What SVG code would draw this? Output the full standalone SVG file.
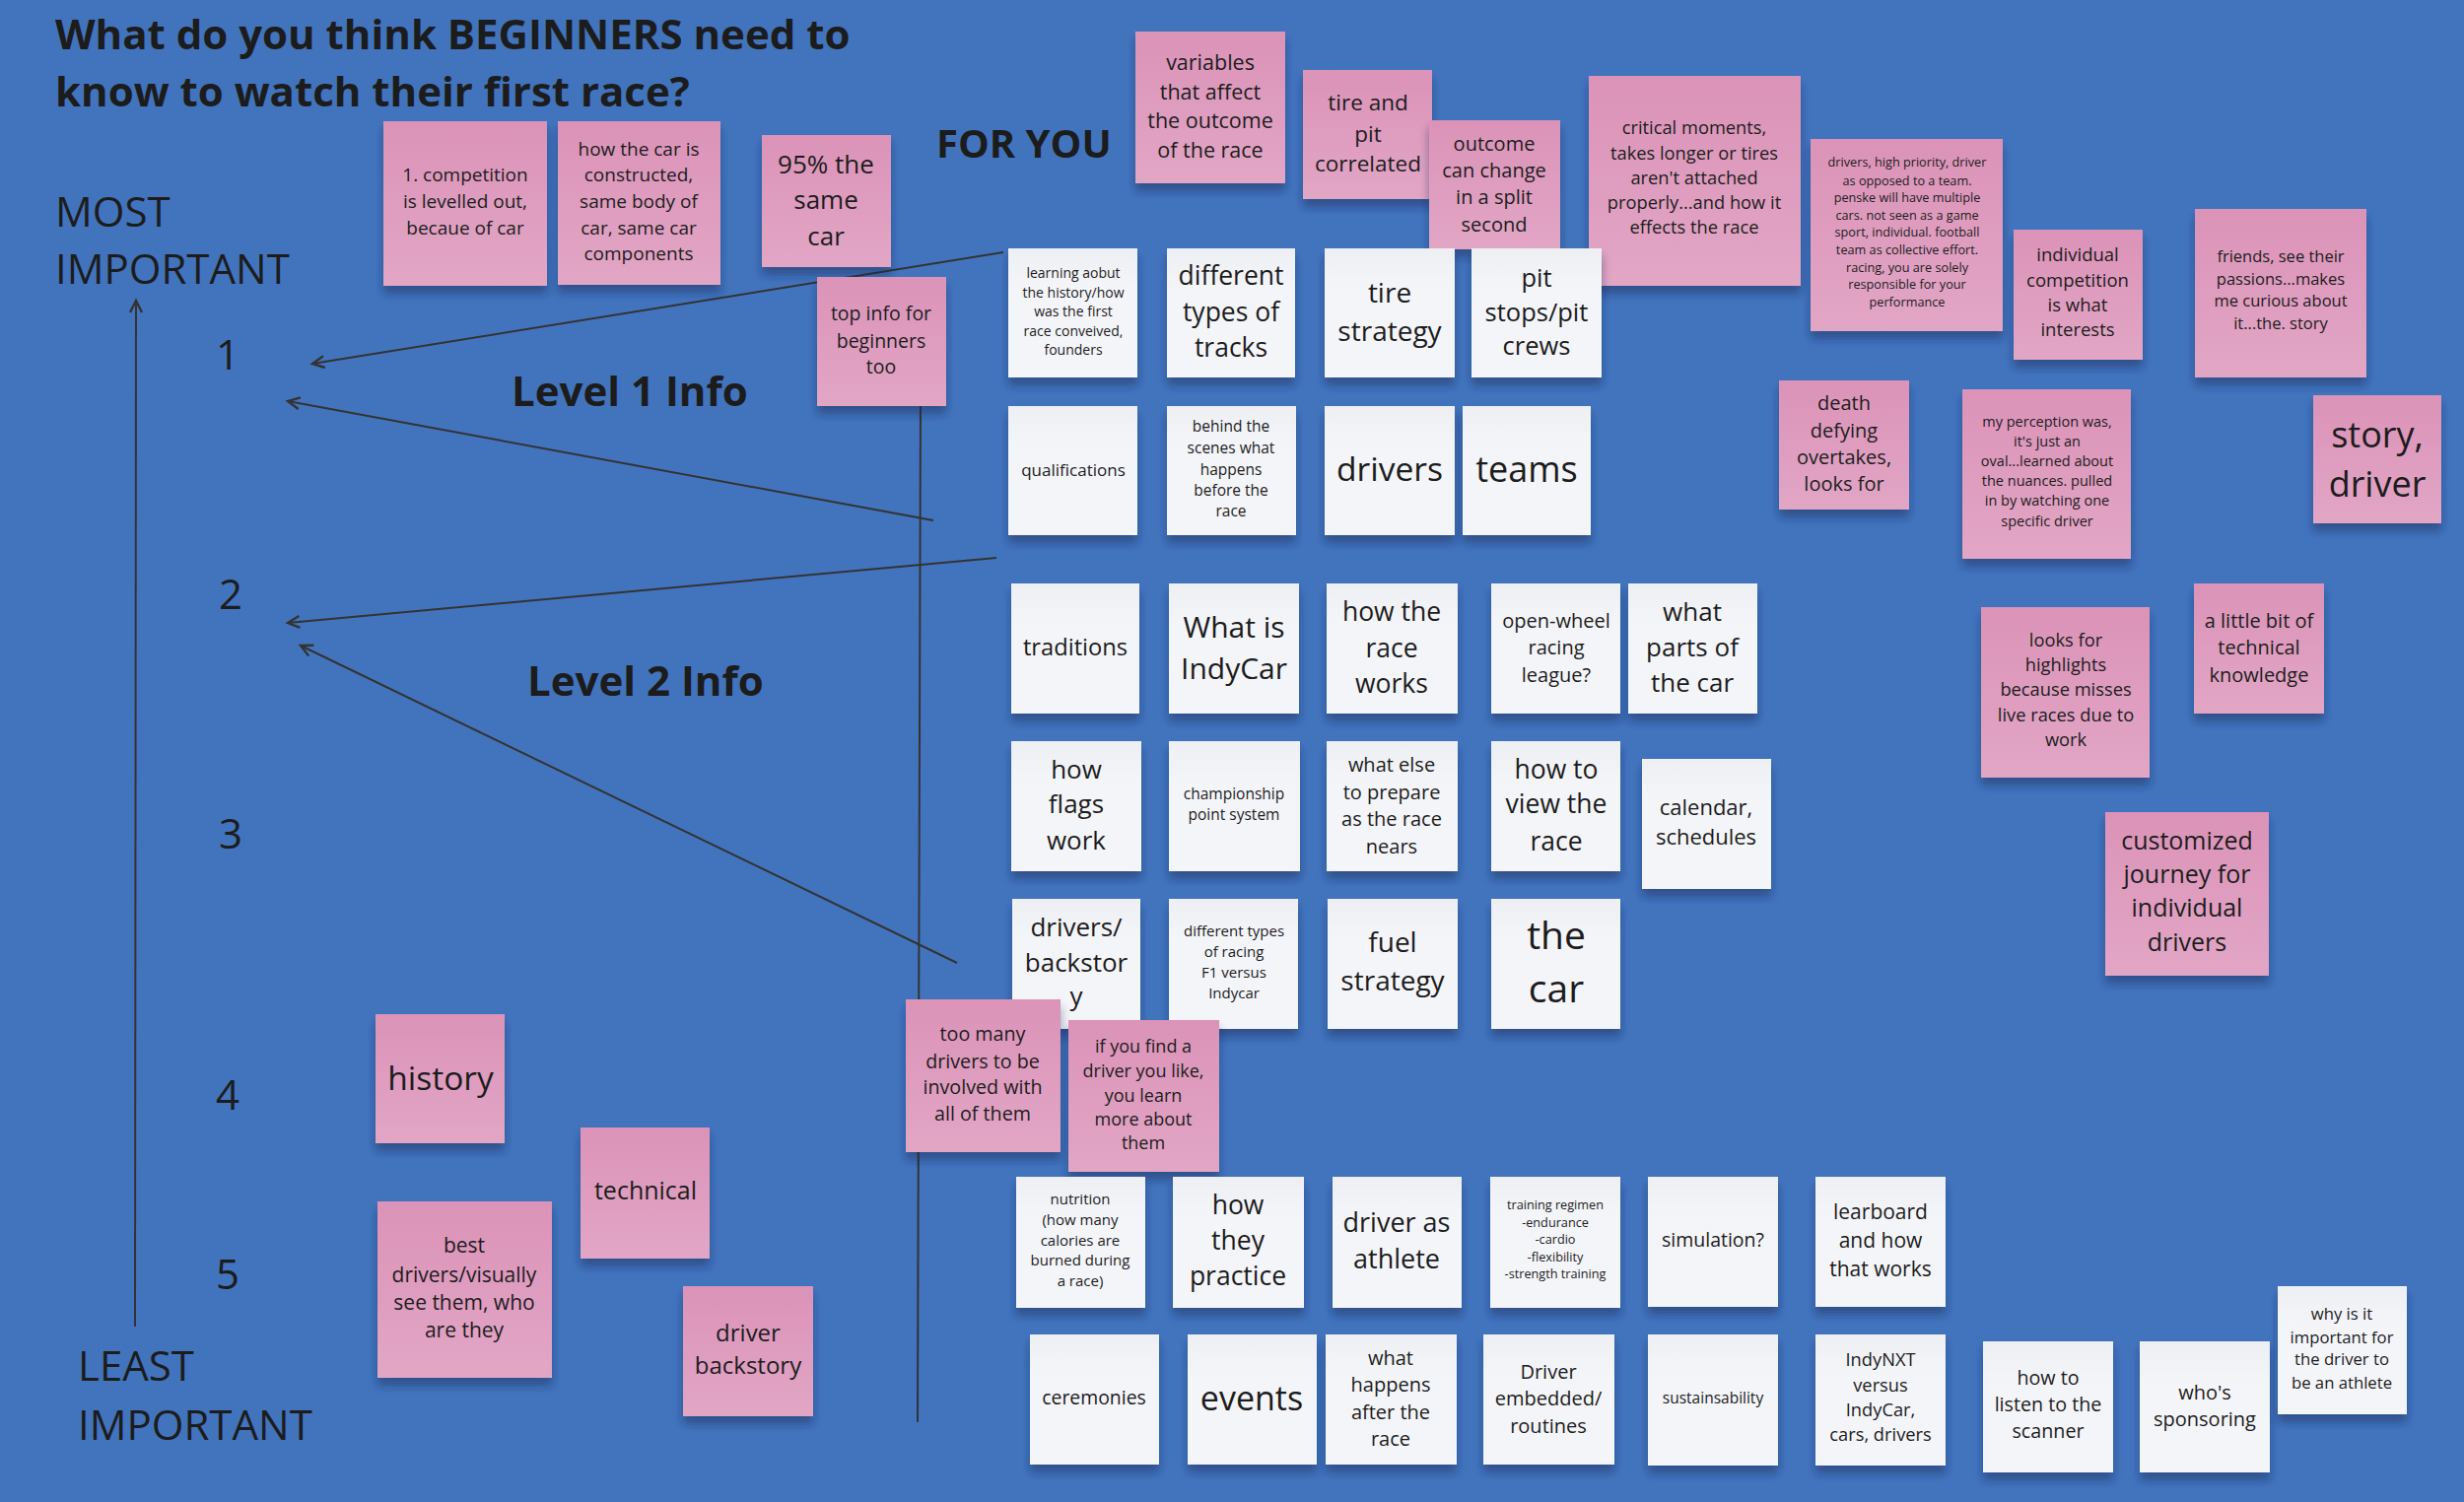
<svg xmlns="http://www.w3.org/2000/svg" width="2500" height="1524" viewBox="0 0 2500 1524">
<defs>
<linearGradient id="pg" x1="0" y1="0" x2="0" y2="1"><stop offset="0" stop-color="#DB93B8"/><stop offset="1" stop-color="#E2A6C5"/></linearGradient>
<linearGradient id="wg" x1="0" y1="0" x2="0" y2="1"><stop offset="0" stop-color="#EEEFF3"/><stop offset="0.3" stop-color="#F4F5F9"/><stop offset="1" stop-color="#F4F5F9"/></linearGradient>
<filter id="sh" x="-10%" y="-10%" width="120%" height="130%"><feDropShadow dx="0" dy="8" stdDeviation="5" flood-color="#15264d" flood-opacity="0.45"/></filter>
<marker id="ar" markerUnits="userSpaceOnUse" markerWidth="16" markerHeight="16" refX="13" refY="7" orient="auto"><path d="M1,1 L13,7 L1,13" fill="none" stroke="#333" stroke-width="2.4"/></marker>
</defs>
<style>
.p{fill:url(#pg);filter:url(#sh)}
.w{fill:url(#wg);filter:url(#sh)}
text{font-family:"Open Sans","DejaVu Sans",sans-serif;fill:#1c1c1c}
.c{text-anchor:middle}
.b{font-weight:bold}
.cn{stroke:#333;stroke-width:2;fill:none}
</style>
<rect width="2500" height="1524" fill="#4274BE"/>
<g id="labels">
<text x="56" y="50" class="b" font-size="42">What do you think BEGINNERS need to</text>
<text x="56" y="108" class="b" font-size="42">know to watch their first race?</text>
<text x="56" y="230" font-size="42">MOST</text>
<text x="56" y="288" font-size="42">IMPORTANT</text>
<text x="79" y="1401" font-size="42">LEAST</text>
<text x="79" y="1461" font-size="42">IMPORTANT</text>
<text x="231" y="375" class="c" font-size="42">1</text>
<text x="234" y="618" class="c" font-size="42">2</text>
<text x="234" y="861" class="c" font-size="42">3</text>
<text x="231" y="1126" class="c" font-size="42">4</text>
<text x="231" y="1308" class="c" font-size="42">5</text>
<text x="519" y="412" class="b" font-size="42">Level 1 Info</text>
<text x="535" y="706" class="b" font-size="42">Level 2 Info</text>
<text x="950" y="160" class="b" font-size="40">FOR YOU</text>
</g>
<g id="connectors">
<path class="cn" d="M137,1346 L138,305" marker-end="url(#ar)"/>
<path class="cn" d="M934,400 L931,1443"/>
<path class="cn" d="M1018,256 L317,369" marker-end="url(#ar)"/>
<path class="cn" d="M947,528 L292,407" marker-end="url(#ar)"/>
<path class="cn" d="M1011,566 L292,632" marker-end="url(#ar)"/>
<path class="cn" d="M971,977 L305,655" marker-end="url(#ar)"/>
</g>
<g id="notes">
<g id="p1"><rect class="p" x="389" y="123" width="166" height="167"/><text class="c" font-size="19"><tspan x="472" y="184">1. competition</tspan><tspan x="472" y="211">is levelled out,</tspan><tspan x="472" y="238">becaue of car</tspan></text></g>
<g id="p2"><rect class="p" x="566" y="123" width="165" height="166"/><text class="c" font-size="19"><tspan x="648" y="158">how the car is</tspan><tspan x="648" y="184">constructed,</tspan><tspan x="648" y="211">same body of</tspan><tspan x="648" y="238">car, same car</tspan><tspan x="648" y="264">components</tspan></text></g>
<g id="p3"><rect class="p" x="773" y="137" width="131" height="134"/><text class="c" font-size="26"><tspan x="838" y="176">95% the</tspan><tspan x="838" y="212">same</tspan><tspan x="838" y="249">car</tspan></text></g>
<g id="p5"><rect class="p" x="1152" y="32" width="152" height="154"/><text class="c" font-size="21.5"><tspan x="1228" y="71">variables</tspan><tspan x="1228" y="101">that affect</tspan><tspan x="1228" y="130">the outcome</tspan><tspan x="1228" y="160">of the race</tspan></text></g>
<g id="p6"><rect class="p" x="1322" y="71" width="131" height="131"/><text class="c" font-size="22.5"><tspan x="1388" y="112">tire and</tspan><tspan x="1388" y="144">pit</tspan><tspan x="1388" y="174">correlated</tspan></text></g>
<g id="p7"><rect class="p" x="1450" y="122" width="133" height="131"/><text class="c" font-size="20"><tspan x="1516" y="153">outcome</tspan><tspan x="1516" y="180">can change</tspan><tspan x="1516" y="207">in a split</tspan><tspan x="1516" y="235">second</tspan></text></g>
<g id="p8"><rect class="p" x="1612" y="77" width="215" height="213"/><text class="c" font-size="18.3"><tspan x="1719" y="136">critical moments,</tspan><tspan x="1719" y="162">takes longer or tires</tspan><tspan x="1719" y="187">aren't attached</tspan><tspan x="1719" y="212">properly...and how it</tspan><tspan x="1719" y="237">effects the race</tspan></text></g>
<g id="p9"><rect class="p" x="1837" y="141" width="195" height="195"/><text class="c" font-size="12.7"><tspan x="1935" y="169">drivers, high priority, driver</tspan><tspan x="1935" y="188">as opposed to a team.</tspan><tspan x="1935" y="205">penske will have multiple</tspan><tspan x="1935" y="223">cars. not seen as a game</tspan><tspan x="1935" y="240">sport, individual. football</tspan><tspan x="1935" y="258">team as collective effort.</tspan><tspan x="1935" y="276">racing, you are solely</tspan><tspan x="1935" y="293">responsible for your</tspan><tspan x="1935" y="311">performance</tspan></text></g>
<g id="p10"><rect class="p" x="2043" y="233" width="131" height="132"/><text class="c" font-size="18.5"><tspan x="2108" y="265">individual</tspan><tspan x="2108" y="291">competition</tspan><tspan x="2108" y="316">is what</tspan><tspan x="2108" y="341">interests</tspan></text></g>
<g id="p11"><rect class="p" x="2227" y="212" width="174" height="171"/><text class="c" font-size="16.5"><tspan x="2314" y="266">friends, see their</tspan><tspan x="2314" y="289">passions...makes</tspan><tspan x="2314" y="311">me curious about</tspan><tspan x="2314" y="334">it...the. story</tspan></text></g>
<g id="p12"><rect class="p" x="1805" y="386" width="132" height="131"/><text class="c" font-size="20"><tspan x="1871" y="416">death</tspan><tspan x="1871" y="444">defying</tspan><tspan x="1871" y="471">overtakes,</tspan><tspan x="1871" y="498">looks for</tspan></text></g>
<g id="p13"><rect class="p" x="1991" y="395" width="171" height="172"/><text class="c" font-size="14.5"><tspan x="2077" y="433">my perception was,</tspan><tspan x="2077" y="453">it's just an</tspan><tspan x="2077" y="473">oval...learned about</tspan><tspan x="2077" y="493">the nuances. pulled</tspan><tspan x="2077" y="513">in by watching one</tspan><tspan x="2077" y="534">specific driver</tspan></text></g>
<g id="p14"><rect class="p" x="2347" y="401" width="130" height="130"/><text class="c" font-size="36"><tspan x="2412" y="454">story,</tspan><tspan x="2412" y="504">driver</tspan></text></g>
<g id="p15"><rect class="p" x="2010" y="616" width="171" height="173"/><text class="c" font-size="18.3"><tspan x="2096" y="656">looks for</tspan><tspan x="2096" y="681">highlights</tspan><tspan x="2096" y="706">because misses</tspan><tspan x="2096" y="732">live races due to</tspan><tspan x="2096" y="757">work</tspan></text></g>
<g id="p16"><rect class="p" x="2226" y="592" width="132" height="132"/><text class="c" font-size="20"><tspan x="2292" y="637">a little bit of</tspan><tspan x="2292" y="664">technical</tspan><tspan x="2292" y="692">knowledge</tspan></text></g>
<g id="p17"><rect class="p" x="2136" y="824" width="166" height="166"/><text class="c" font-size="25"><tspan x="2219" y="862">customized</tspan><tspan x="2219" y="896">journey for</tspan><tspan x="2219" y="930">individual</tspan><tspan x="2219" y="965">drivers</tspan></text></g>
<g id="p18"><rect class="p" x="381" y="1029" width="131" height="131"/><text class="c" font-size="33.5"><tspan x="447" y="1106">history</tspan></text></g>
<g id="p19"><rect class="p" x="589" y="1144" width="131" height="133"/><text class="c" font-size="25"><tspan x="655" y="1217">technical</tspan></text></g>
<g id="p20"><rect class="p" x="383" y="1219" width="177" height="179"/><text class="c" font-size="21"><tspan x="471" y="1271">best</tspan><tspan x="471" y="1301">drivers/visually</tspan><tspan x="471" y="1329">see them, who</tspan><tspan x="471" y="1357">are they</tspan></text></g>
<g id="p21"><rect class="p" x="693" y="1305" width="132" height="132"/><text class="c" font-size="24"><tspan x="759" y="1361">driver</tspan><tspan x="759" y="1394">backstory</tspan></text></g>
<g id="w1"><rect class="w" x="1023" y="252" width="131" height="131"/><text class="c" font-size="14"><tspan x="1089" y="282">learning aobut</tspan><tspan x="1089" y="302">the history/how</tspan><tspan x="1089" y="321">was the first</tspan><tspan x="1089" y="341">race conveived,</tspan><tspan x="1089" y="360">founders</tspan></text></g>
<g id="w2"><rect class="w" x="1184" y="252" width="130" height="131"/><text class="c" font-size="26.5"><tspan x="1249" y="289">different</tspan><tspan x="1249" y="326">types of</tspan><tspan x="1249" y="362">tracks</tspan></text></g>
<g id="w3"><rect class="w" x="1344" y="252" width="132" height="131"/><text class="c" font-size="28"><tspan x="1410" y="307">tire</tspan><tspan x="1410" y="346">strategy</tspan></text></g>
<g id="w4"><rect class="w" x="1493" y="252" width="132" height="131"/><text class="c" font-size="25.5"><tspan x="1559" y="291">pit</tspan><tspan x="1559" y="326">stops/pit</tspan><tspan x="1559" y="360">crews</tspan></text></g>
<g id="w5"><rect class="w" x="1023" y="412" width="131" height="131"/><text class="c" font-size="17"><tspan x="1089" y="483">qualifications</tspan></text></g>
<g id="w6"><rect class="w" x="1184" y="412" width="131" height="131"/><text class="c" font-size="15.5"><tspan x="1249" y="438">behind the</tspan><tspan x="1249" y="460">scenes what</tspan><tspan x="1249" y="482">happens</tspan><tspan x="1249" y="503">before the</tspan><tspan x="1249" y="524">race</tspan></text></g>
<g id="w7"><rect class="w" x="1344" y="412" width="132" height="131"/><text class="c" font-size="33.6"><tspan x="1410" y="488">drivers</tspan></text></g>
<g id="w8"><rect class="w" x="1484" y="412" width="130" height="131"/><text class="c" font-size="36"><tspan x="1549" y="489">teams</tspan></text></g>
<g id="w9"><rect class="w" x="1026" y="592" width="130" height="132"/><text class="c" font-size="23.7"><tspan x="1091" y="665">traditions</tspan></text></g>
<g id="w10"><rect class="w" x="1186" y="592" width="132" height="132"/><text class="c" font-size="30"><tspan x="1252" y="647">What is</tspan><tspan x="1252" y="689">IndyCar</tspan></text></g>
<g id="w11"><rect class="w" x="1346" y="592" width="133" height="132"/><text class="c" font-size="26.5"><tspan x="1412" y="630">how the</tspan><tspan x="1412" y="667">race</tspan><tspan x="1412" y="703">works</tspan></text></g>
<g id="w12"><rect class="w" x="1513" y="592" width="131" height="132"/><text class="c" font-size="20"><tspan x="1579" y="637">open-wheel</tspan><tspan x="1579" y="664">racing</tspan><tspan x="1579" y="692">league?</tspan></text></g>
<g id="w13"><rect class="w" x="1652" y="592" width="131" height="132"/><text class="c" font-size="26"><tspan x="1717" y="630">what</tspan><tspan x="1717" y="666">parts of</tspan><tspan x="1717" y="702">the car</tspan></text></g>
<g id="w14"><rect class="w" x="1026" y="752" width="132" height="132"/><text class="c" font-size="26"><tspan x="1092" y="790">how</tspan><tspan x="1092" y="825">flags</tspan><tspan x="1092" y="862">work</tspan></text></g>
<g id="w15"><rect class="w" x="1186" y="752" width="133" height="132"/><text class="c" font-size="15.5"><tspan x="1252" y="811">championship</tspan><tspan x="1252" y="832">point system</tspan></text></g>
<g id="w16"><rect class="w" x="1346" y="752" width="133" height="132"/><text class="c" font-size="20"><tspan x="1412" y="783">what else</tspan><tspan x="1412" y="811">to prepare</tspan><tspan x="1412" y="838">as the race</tspan><tspan x="1412" y="866">nears</tspan></text></g>
<g id="w17"><rect class="w" x="1513" y="752" width="131" height="132"/><text class="c" font-size="26.5"><tspan x="1579" y="790">how to</tspan><tspan x="1579" y="825">view the</tspan><tspan x="1579" y="863">race</tspan></text></g>
<g id="w18"><rect class="w" x="1666" y="770" width="131" height="132"/><text class="c" font-size="22"><tspan x="1731" y="827">calendar,</tspan><tspan x="1731" y="857">schedules</tspan></text></g>
<g id="w19"><rect class="w" x="1027" y="912" width="130" height="132"/><text class="c" font-size="26"><tspan x="1092" y="950">drivers/</tspan><tspan x="1092" y="986">backstor</tspan><tspan x="1092" y="1020">y</tspan></text></g>
<g id="w20"><rect class="w" x="1186" y="912" width="131" height="132"/><text class="c" font-size="15"><tspan x="1252" y="950">different types</tspan><tspan x="1252" y="971">of racing</tspan><tspan x="1252" y="992">F1 versus</tspan><tspan x="1252" y="1013">Indycar</tspan></text></g>
<g id="w21"><rect class="w" x="1347" y="912" width="132" height="132"/><text class="c" font-size="28"><tspan x="1413" y="966">fuel</tspan><tspan x="1413" y="1005">strategy</tspan></text></g>
<g id="w22"><rect class="w" x="1513" y="912" width="131" height="132"/><text class="c" font-size="39"><tspan x="1579" y="963">the</tspan><tspan x="1579" y="1017">car</tspan></text></g>
<g id="p22"><rect class="p" x="919" y="1014" width="157" height="155"/><text class="c" font-size="19.7"><tspan x="997" y="1056">too many</tspan><tspan x="997" y="1084">drivers to be</tspan><tspan x="997" y="1110">involved with</tspan><tspan x="997" y="1137">all of them</tspan></text></g>
<g id="p23"><rect class="p" x="1084" y="1035" width="153" height="154"/><text class="c" font-size="18"><tspan x="1160" y="1068">if you find a</tspan><tspan x="1160" y="1093">driver you like,</tspan><tspan x="1160" y="1118">you learn</tspan><tspan x="1160" y="1142">more about</tspan><tspan x="1160" y="1166">them</tspan></text></g>
<g id="w23"><rect class="w" x="1031" y="1194" width="131" height="133"/><text class="c" font-size="15"><tspan x="1096" y="1222">nutrition</tspan><tspan x="1096" y="1243">(how many</tspan><tspan x="1096" y="1264">calories are</tspan><tspan x="1096" y="1284">burned during</tspan><tspan x="1096" y="1305">a race)</tspan></text></g>
<g id="w24"><rect class="w" x="1190" y="1194" width="133" height="133"/><text class="c" font-size="26.5"><tspan x="1256" y="1232">how</tspan><tspan x="1256" y="1268">they</tspan><tspan x="1256" y="1304">practice</tspan></text></g>
<g id="w25"><rect class="w" x="1352" y="1194" width="131" height="133"/><text class="c" font-size="27"><tspan x="1417" y="1250">driver as</tspan><tspan x="1417" y="1287">athlete</tspan></text></g>
<g id="w26"><rect class="w" x="1512" y="1194" width="132" height="133"/><text class="c" font-size="12.7"><tspan x="1578" y="1227">training regimen</tspan><tspan x="1578" y="1245">-endurance</tspan><tspan x="1578" y="1262">-cardio</tspan><tspan x="1578" y="1280">-flexibility</tspan><tspan x="1578" y="1297">-strength training</tspan></text></g>
<g id="w27"><rect class="w" x="1672" y="1194" width="132" height="132"/><text class="c" font-size="19.5"><tspan x="1738" y="1265">simulation?</tspan></text></g>
<g id="w28"><rect class="w" x="1842" y="1194" width="132" height="132"/><text class="c" font-size="21"><tspan x="1908" y="1237">learboard</tspan><tspan x="1908" y="1266">and how</tspan><tspan x="1908" y="1295">that works</tspan></text></g>
<g id="w29"><rect class="w" x="1045" y="1354" width="131" height="132"/><text class="c" font-size="19.4"><tspan x="1110" y="1425">ceremonies</tspan></text></g>
<g id="w30"><rect class="w" x="1205" y="1354" width="131" height="132"/><text class="c" font-size="34"><tspan x="1270" y="1431">events</tspan></text></g>
<g id="w31"><rect class="w" x="1345" y="1354" width="133" height="132"/><text class="c" font-size="20"><tspan x="1411" y="1385">what</tspan><tspan x="1411" y="1412">happens</tspan><tspan x="1411" y="1440">after the</tspan><tspan x="1411" y="1467">race</tspan></text></g>
<g id="w32"><rect class="w" x="1505" y="1354" width="133" height="132"/><text class="c" font-size="20"><tspan x="1571" y="1399">Driver</tspan><tspan x="1571" y="1426">embedded/</tspan><tspan x="1571" y="1454">routines</tspan></text></g>
<g id="w33"><rect class="w" x="1672" y="1354" width="132" height="133"/><text class="c" font-size="15.5"><tspan x="1738" y="1424">sustainsability</tspan></text></g>
<g id="w34"><rect class="w" x="1842" y="1354" width="132" height="133"/><text class="c" font-size="18.3"><tspan x="1908" y="1386">IndyNXT</tspan><tspan x="1908" y="1412">versus</tspan><tspan x="1908" y="1437">IndyCar,</tspan><tspan x="1908" y="1462">cars, drivers</tspan></text></g>
<g id="w35"><rect class="w" x="2012" y="1361" width="132" height="133"/><text class="c" font-size="19.7"><tspan x="2078" y="1405">how to</tspan><tspan x="2078" y="1432">listen to the</tspan><tspan x="2078" y="1459">scanner</tspan></text></g>
<g id="w36"><rect class="w" x="2171" y="1361" width="132" height="133"/><text class="c" font-size="20"><tspan x="2237" y="1420">who's</tspan><tspan x="2237" y="1447">sponsoring</tspan></text></g>
<g id="w37"><rect class="w" x="2311" y="1305" width="131" height="130"/><text class="c" font-size="16.7"><tspan x="2376" y="1339">why is it</tspan><tspan x="2376" y="1363">important for</tspan><tspan x="2376" y="1385">the driver to</tspan><tspan x="2376" y="1409">be an athlete</tspan></text></g>
<g id="p4"><rect class="p" x="829" y="281" width="131" height="131"/><text class="c" font-size="19.5"><tspan x="894" y="325">top info for</tspan><tspan x="894" y="353">beginners</tspan><tspan x="894" y="379">too</tspan></text></g>
</g>
</svg>
